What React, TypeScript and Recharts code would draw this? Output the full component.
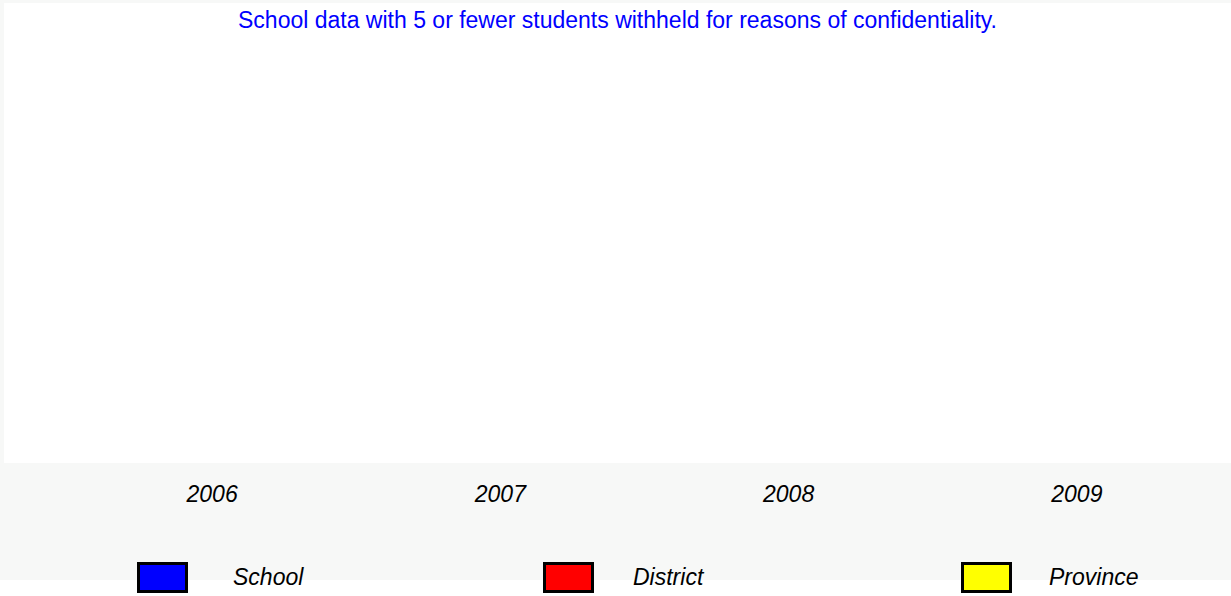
import { Bar, BarChart, CartesianGrid, Legend, XAxis, YAxis } from "recharts";

// years shown on the axis
const years = ["2006", "2007", "2008", "2009"];

// school values are withheld (5 or fewer students), so every series is empty
const schoolValues: (number | null)[] = [null, null, null, null];
const districtValues: (number | null)[] = [null, null, null, null];
const provinceValues: (number | null)[] = [null, null, null, null];

const seriesNames = ["School", "District", "Province"];
const seriesColors = ["#0000ff", "#ff0000", "#ffff00"];

const note = "School data with 5 or fewer students withheld for reasons of confidentiality.";

const data = years.map((year, i) => ({
  year,
  School: schoolValues[i],
  District: districtValues[i],
  Province: provinceValues[i],
}));

const FONT = "'Liberation Sans', Arial, sans-serif";

// where each legend swatch and its label sit along the bottom row
const legendBoxX = [138.5, 544.5, 962.5];
const legendTextX = [233, 633, 1049];

function LegendRow() {
  // keep series order (recharts sorts the payload by name otherwise)
  return (
    <svg width={1231} height={38} style={{ display: "block" }}>
      {seriesNames.map((name, i) => (
        <g key={name}>
          <rect
            x={legendBoxX[i]}
            y={5.5}
            width={48}
            height={28}
            fill={seriesColors[i]}
            stroke="#000"
            strokeWidth={3}
          />
          <text
            x={legendTextX[i]}
            y={27}
            fontFamily={FONT}
            fontSize={23}
            fontStyle="italic"
            fill="#000"
          >
            {name}
          </text>
        </g>
      ))}
    </svg>
  );
}

export default function App() {
  return (
    <div
      style={{
        position: "absolute",
        left: 0,
        top: 0,
        width: 1231,
        height: 596,
        background: "#fff",
        fontFamily: FONT,
      }}
    >
      <div
        style={{
          position: "absolute",
          left: 0,
          top: 0,
          width: 1231,
          height: 580,
          background: "#f7f8f7",
        }}
      />
      <BarChart
        width={1231}
        height={596}
        data={data}
        margin={{ top: 3, right: 0, bottom: 16, left: 4 }}
        style={{ position: "absolute", left: 0, top: 0 }}
      >
        <CartesianGrid fill="#fff" horizontal={false} vertical={false} />
        <XAxis
          dataKey="year"
          height={117}
          padding={{ left: 64, right: 10 }}
          axisLine={false}
          tickLine={false}
          tickMargin={17}
          tick={{ fontSize: 23, fontStyle: "italic", fill: "#000", fontFamily: FONT }}
        />
        <YAxis hide domain={[0, 100]} />
        <Legend
          verticalAlign="middle"
          align="center"
          layout="horizontal"
          wrapperStyle={{ top: 558, left: 0, width: 1231 }}
          content={() => <LegendRow />}
        />
        {seriesNames.map((name, i) => (
          <Bar key={name} dataKey={name} fill={seriesColors[i]} isAnimationActive={false} />
        ))}
      </BarChart>
      <div
        style={{
          position: "absolute",
          left: 4,
          top: 7,
          width: 1227,
          textAlign: "center",
          color: "#0000ff",
          fontSize: 23,
          lineHeight: "26px",
          whiteSpace: "nowrap",
        }}
      >
        {note}
      </div>
    </div>
  );
}
